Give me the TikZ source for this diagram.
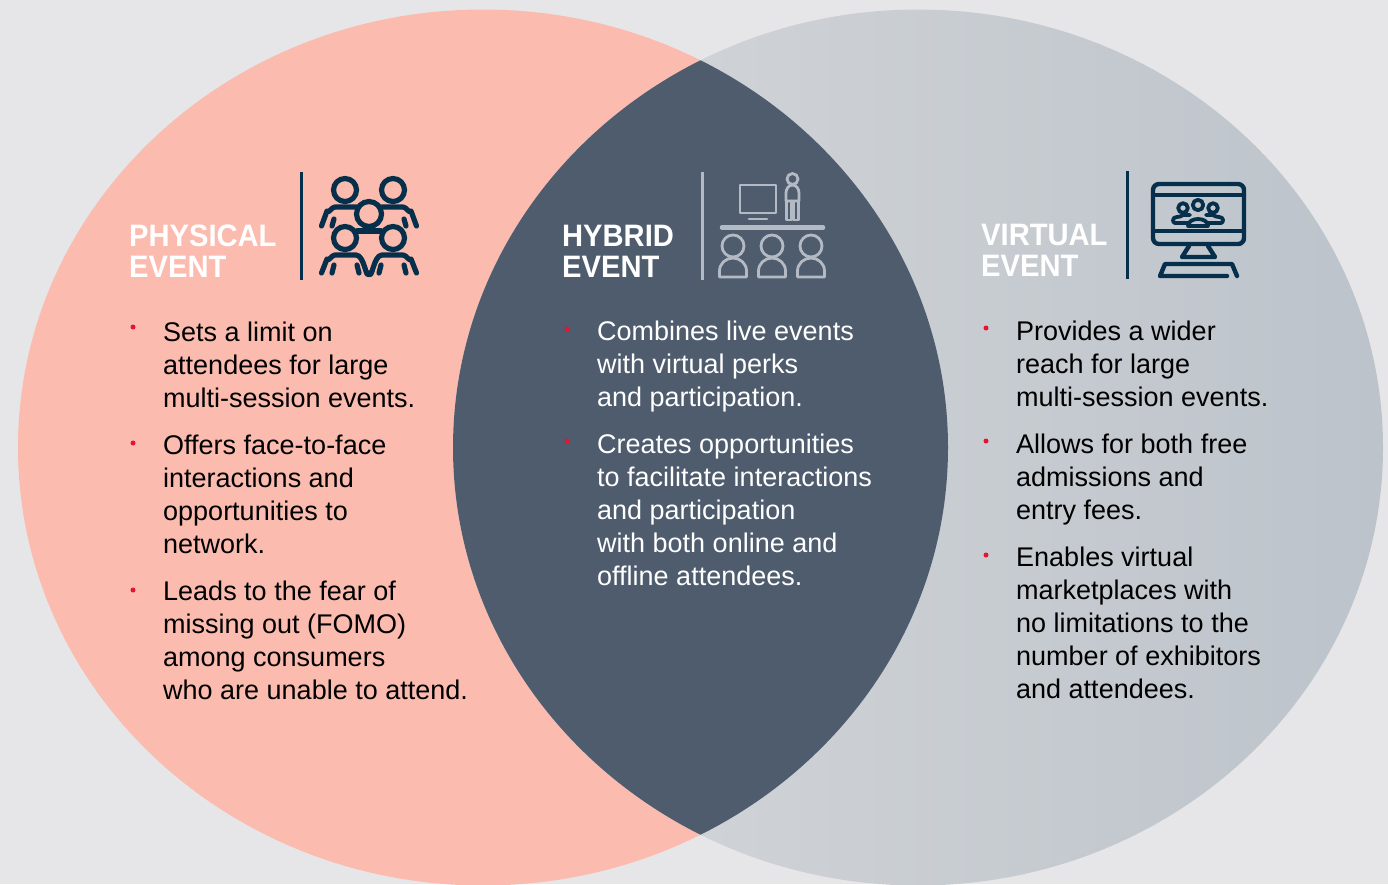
\documentclass[tikz,border=0pt]{standalone}
\usepackage{fontspec}
\setmainfont[BoldFeatures={FakeStretch=0.94}]{Liberation Sans}
\definecolor{bgcol}{HTML}{E6E6E8}
\definecolor{salmon}{HTML}{FBBCAF}
\definecolor{slate}{HTML}{4E5C6E}
\definecolor{navy}{HTML}{052F4A}
\definecolor{pale}{HTML}{B4BAC4}
\definecolor{dot}{HTML}{E8142F}
\definecolor{greyl}{HTML}{D6D8DB}
\definecolor{greym}{HTML}{C8CCD3}
\definecolor{greyr}{HTML}{BCC3CA}
\tikzset{
  head/.style={text=white, font=\fontsize{31}{31}\selectfont\bfseries, align=left, anchor=base west, inner sep=0pt},
  body/.style={text=#1, font=\fontsize{27}{33}\selectfont, align=left, anchor=base west, inner sep=0pt},
  body/.default=black,
  bullet/.style={circle, fill=dot, minimum size=5pt, inner sep=0pt},
  rule/.style={line width=3pt, #1},
  icon/.style={line width=5.2pt, navy, line cap=round, line join=round},
  iconv/.style={line width=4.4pt, navy, line cap=round, line join=round},
  iconc/.style={line width=3.8pt, navy, line cap=round, line join=round},
  iconb/.style={line width=2.8pt, pale, line cap=round, line join=round}
}
\begin{document}
\begin{tikzpicture}[x=1pt,y=-1pt]
  \useasboundingbox (0,0) rectangle (1388,884);
  \fill[bgcol] (0,0) rectangle (1388,884);

  % circles
  \begin{scope}
    \clip (0,0) rectangle (1388,884);
    \fill[salmon] (483,447.5) ellipse [x radius=465, y radius=438];
    \shade[left color=greyl, middle color=greym, right color=greyr] (918,447.5) ellipse [x radius=465, y radius=438];
    \begin{scope}
      \clip (483,447.5) ellipse [x radius=465, y radius=438];
      \fill[slate] (918,447.5) ellipse [x radius=465, y radius=438];
    \end{scope}
  \end{scope}

  % physical
  \node[head] (phys1) at (129,246) {PHYSICAL};
  \node[head] (phys2) at (129,277) {EVENT};
  \coordinate (pr1) at (301,172);
  \coordinate (pr2) at (301,280);
  \draw[rule=navy] (pr1) -- (pr2);

  \draw[icon] (345,190) circle (11.5);
  \draw[icon] (393,190) circle (11.5);
  \draw[icon] (369,214) circle (12.5);
  \draw[icon] (345,238) circle (11.5);
  \draw[icon] (393,238) circle (11.5);
  \draw[icon] (357,231) -- (381,231);
  \draw[icon] (321.5,226) -- (327,211) to[out=-65,in=180] (335,207) -- (356.5,207);
  \draw[icon] (416.5,226) -- (411,211) to[out=-115,in=0] (403,207) -- (381.5,207);
  \draw[icon] (334,219) -- (332,226);
  \draw[icon] (404,219) -- (406,226);
  \draw[icon] (321.5,273) -- (327,259) to[out=-65,in=180] (335,255) -- (356,255) to[out=0,in=-110] (369,273) to[out=-70,in=180] (382,255) -- (403,255) to[out=0,in=-115] (411,259) -- (416.5,273);
  \draw[icon] (334,265) -- (332,273);
  \draw[icon] (357,265) -- (359,273);
  \draw[icon] (381,265) -- (379,273);
  \draw[icon] (404,265) -- (406,273);

  \node[body] (p1) at (163,407) {Sets a limit on\\attendees for large\\multi-session events.};
  \node[body] (p2) at (163,553) {Offers face-to-face\\interactions and\\opportunities to\\network.};
  \node[body] (p3) at (163,699) {Leads to the fear of\\missing out (FOMO)\\among consumers\\who are unable to attend.};
  \node[bullet] (pb1) at (133,327) {};
  \node[bullet] (pb2) at (133,443) {};
  \node[bullet] (pb3) at (133,590) {};

  % hybrid
  \node[head] (hyb1) at (562,246) {HYBRID};
  \node[head] (hyb2) at (562,277) {EVENT};
  \coordinate (hr1) at (702,172);
  \coordinate (hr2) at (702,280);
  \draw[rule=pale] (hr1) -- (hr2);

  \draw[iconb] (740,185) rectangle (776,213);
  \draw[iconb] (749,219) -- (767,219);
  \draw[iconb] (792.5,179) circle (5.5);
  \draw[iconb] (786,201) -- (786,193) to[out=90,in=180] (792.5,185) to[out=0,in=90] (799,193) -- (799,201) -- cycle;
  \draw[iconb] (786.5,201) -- (786.5,220) -- (791.5,220) -- (791.5,201);
  \draw[iconb] (793.5,201) -- (793.5,220) -- (798.5,220) -- (798.5,201);
  \draw[line width=4.5pt, pale, line cap=round] (722,227.5) -- (823,227.5);
  \foreach \px in {733,772,811} {
    \draw[iconb] (\px,246) circle (11);
    \draw[iconb] (\px-13.5,277) -- (\px-13.5,271) to[out=90,in=180] (\px,258) to[out=0,in=90] (\px+13.5,271) -- (\px+13.5,277) -- cycle;
  }

  \node[body=white] (h1) at (597,406.5) {Combines live events\\with virtual perks\\and participation.};
  \node[body=white] (h2) at (597,585.5) {Creates opportunities\\to facilitate interactions\\and participation\\with both online and\\offline attendees.};
  \node[bullet] (hb1) at (567,329) {};
  \node[bullet] (hb2) at (567,441) {};

  % virtual
  \node[head] (virt1) at (981,245) {VIRTUAL};
  \node[head] (virt2) at (981,276) {EVENT};
  \coordinate (vr1) at (1127,171);
  \coordinate (vr2) at (1127,279);
  \draw[rule=navy] (vr1) -- (vr2);

  \draw[iconv] (1153,190) to[out=90,in=180] (1159,184) -- (1238,184) to[out=0,in=90] (1244,190) -- (1244,238) to[out=-90,in=0] (1238,244) -- (1159,244) to[out=180,in=-90] (1153,238) -- cycle;
  \draw[iconv] (1153,195) -- (1244,195);
  \draw[iconv] (1153,231) -- (1244,231);
  \draw[iconv] (1189,246) -- (1182,257) -- (1215,257) -- (1208,246);
  \draw[iconv] (1227,276) -- (1160,276) -- (1165,264) -- (1232,264) -- (1237,276);
  \draw[iconc] (1183,208) circle (4.8);
  \draw[iconc] (1198,205) circle (5.2);
  \draw[iconc] (1213,208) circle (4.8);
  \draw[iconc] (1189,223) -- (1175,223) to[out=180,in=-90] (1173,220) to[out=90,in=-135] (1183,215) -- (1190,215);
  \draw[iconc] (1207,223) -- (1221,223) to[out=0,in=-90] (1223,220) to[out=90,in=-45] (1213,215) -- (1206,215);
  \draw[iconc] (1188,226) to[out=90,in=180] (1198,219) to[out=0,in=90] (1208,226) -- cycle;

  \node[body] (v1) at (1016,406) {Provides a wider\\reach for large\\multi-session events.};
  \node[body] (v2) at (1016,519) {Allows for both free\\admissions and\\entry fees.};
  \node[body] (v3) at (1016,698) {Enables virtual\\marketplaces with\\no limitations to the\\number of exhibitors\\and attendees.};
  \node[bullet] (vb1) at (986,328) {};
  \node[bullet] (vb2) at (986,441) {};
  \node[bullet] (vb3) at (986,555) {};
\end{tikzpicture}
\end{document}
